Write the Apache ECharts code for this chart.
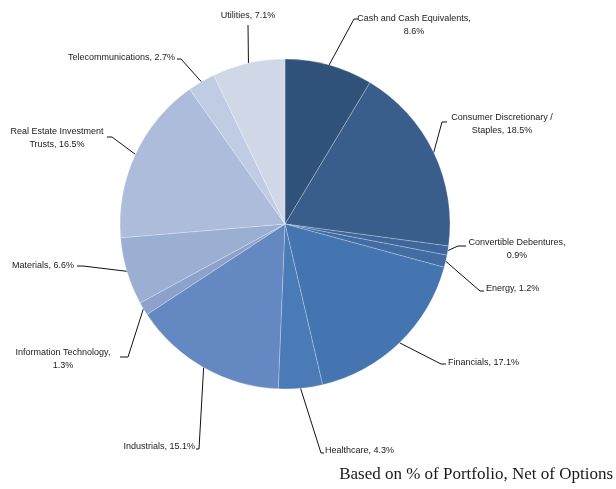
<!DOCTYPE html>
<html>
<head>
<meta charset="utf-8">
<script src="https://cdn.jsdelivr.net/npm/echarts@6/dist/echarts.min.js"></script>
<style>
html,body{margin:0;padding:0;background:#fff;}
#chart{width:616px;height:489px;}
</style>
</head>
<body>
<div id="chart"></div>
<script>
// ---- data ----
var categories = [
  'Cash and Cash Equivalents',
  'Consumer Discretionary / Staples',
  'Convertible Debentures',
  'Energy',
  'Financials',
  'Healthcare',
  'Industrials',
  'Information Technology',
  'Materials',
  'Real Estate Investment Trusts',
  'Telecommunications',
  'Utilities'
];
var values = [8.6, 18.5, 0.9, 1.2, 17.1, 4.3, 15.1, 1.3, 6.6, 16.5, 2.7, 7.1];
var labelTexts = [
  'Cash and Cash Equivalents,\n8.6%',
  'Consumer Discretionary /\nStaples, 18.5%',
  'Convertible Debentures,\n0.9%',
  'Energy, 1.2%',
  'Financials, 17.1%',
  'Healthcare, 4.3%',
  'Industrials, 15.1%',
  'Information Technology,\n1.3%',
  'Materials, 6.6%',
  'Real Estate Investment\nTrusts, 16.5%',
  'Telecommunications, 2.7%',
  'Utilities, 7.1%'
];
var footnote = 'Based on % of Portfolio, Net of Options';

// ---- styles / layout ----
var colors = ['#30527A','#3A5E8C','#3F679C','#426CA4','#4575B0','#4A7BB7','#6488C2','#8CA2CC','#9BAFD2','#ADBCDA','#C0CCE3','#D0D8E8'];
// label anchor: [x, y, align, elbow x, elbow y, end x]
var labelLayoutCfg = [
  [414, 25, 'center', 354, 19, 358],
  [502, 124.5, 'center', 442, 122, 447],
  [517, 249, 'center', 458, 246, 466],
  [486, 289, 'left', 480, 291, 484],
  [448, 363, 'left', 441, 364, 446],
  [325, 451, 'left', 321, 453, 324],
  [195, 447, 'right', 199, 449, 196],
  [63, 359.5, 'center', 128, 357, 120],
  [74, 266, 'right', 83, 266, 77],
  [57, 138.5, 'center', 112, 137, 107],
  [175, 58, 'right', 181, 59, 177],
  [248, 16, 'center', 248, 25, 248]
];

var chart = echarts.init(document.getElementById('chart'));
var data = categories.map(function (c, i) {
  return { name: c, value: values[i], itemStyle: { color: colors[i] } };
});
var center = [285, 224];
var radius = 165;

chart.setOption({
  animation: false,
  title: {
    text: footnote,
    right: -2,
    bottom: 1,
    textStyle: { fontFamily: 'Liberation Serif', fontSize: 17, fontWeight: 'normal', color: '#1a1a1a' }
  },
  series: [{
    type: 'pie',
    center: center,
    radius: radius,
    startAngle: 90,
    clockwise: true,
    data: data,
    itemStyle: { borderColor: 'rgba(255,255,255,0.3)', borderWidth: 0.8 },
    label: {
      show: true,
      position: 'outside',
      overflow: 'none',
      formatter: function (p) { return labelTexts[p.dataIndex]; },
      fontFamily: 'Liberation Sans',
      fontSize: 9,
      lineHeight: 13,
      color: '#1a1a1a'
    },
    labelLine: { show: true, length: 10, length2: 10, lineStyle: { color: '#111', width: 1 } },
    labelLayout: function (params) {
      var cfg = labelLayoutCfg[params.dataIndex];
      var start = params.labelLinePoints ? params.labelLinePoints[0] : null;
      return {
        x: cfg[0],
        y: cfg[1],
        align: cfg[2],
        verticalAlign: 'middle',
        labelLinePoints: start ? [start, [cfg[3], cfg[4]], [cfg[5], cfg[4]]] : undefined
      };
    },
    emphasis: { disabled: true }
  }]
});
</script>
</body>
</html>
